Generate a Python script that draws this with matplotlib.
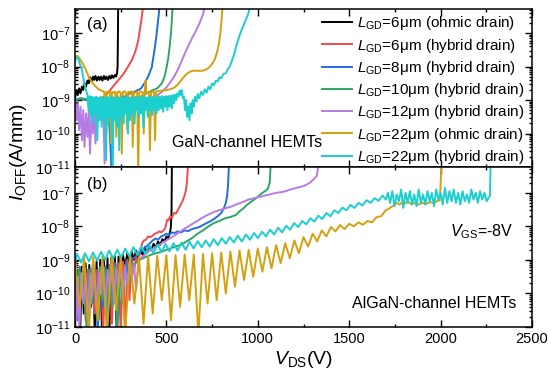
import numpy as np
import matplotlib
matplotlib.use("Agg")
import matplotlib.pyplot as plt
from matplotlib.ticker import MultipleLocator, LogLocator, NullFormatter

plt.rcParams["font.family"] = ["Liberation Sans", "DejaVu Sans"]
plt.rcParams["mathtext.fontset"] = "custom"
plt.rcParams["mathtext.rm"] = "Liberation Sans"
plt.rcParams["mathtext.it"] = "Liberation Sans:italic"

# colours of the seven devices (legend order)
colors = ["#000000", "#f44a4a", "#1f6fe0", "#2ca864", "#b57ce6", "#d4a010", "#1ccfcf"]
labels = [
    r"$L_{\mathrm{GD}}$=6μm (ohmic drain)",
    r"$L_{\mathrm{GD}}$=6μm (hybrid drain)",
    r"$L_{\mathrm{GD}}$=8μm (hybrid drain)",
    r"$L_{\mathrm{GD}}$=10μm (hybrid drain)",
    r"$L_{\mathrm{GD}}$=12μm (hybrid drain)",
    r"$L_{\mathrm{GD}}$=22μm (ohmic drain)",
    r"$L_{\mathrm{GD}}$=22μm (hybrid drain)",
]

# ---- (a) GaN-channel : (V_DS [V], log10 I_OFF [A/mm]) ----
a_black = [(0, -8.95), (8, -8.7), (15, -8.85), (22, -8.65), (30, -8.8), (38, -8.6), (45, -8.7),
           (52, -8.5), (60, -8.6), (68, -8.42), (75, -8.5), (82, -8.32), (90, -8.45), (98, -8.3),
           (105, -8.4), (112, -8.28), (120, -8.42), (128, -8.3), (135, -8.4), (142, -8.3),
           (150, -8.42), (158, -8.28), (165, -8.38), (172, -8.3), (180, -8.4), (188, -8.28),
           (195, -8.36), (202, -8.26), (210, -8.34), (218, -8.25), (225, -8.3), (230, -8.2),
           (233, -8.0), (235, -7.0), (236, -6.2)]
a_red = [(0, -9.0), (30, -8.95), (60, -9.0), (90, -8.95), (120, -9.0), (150, -8.92), (170, -8.85),
         (190, -8.72), (210, -8.58), (230, -8.45), (250, -8.32), (270, -8.18), (290, -8.0),
         (310, -7.82), (330, -7.55), (345, -7.25), (355, -6.9), (362, -6.65), (368, -6.4), (372, -6.2)]
a_blue = [(0, -9.0), (30, -8.95), (60, -9.0), (90, -8.95), (120, -9.0), (150, -8.95), (180, -9.0),
          (195, -10.5), (200, -11.2), (205, -10.4), (210, -9.0), (240, -8.95), (270, -8.9),
          (300, -8.8), (330, -8.74), (360, -8.66), (380, -8.5), (400, -8.3), (420, -8.02),
          (435, -7.5), (445, -7.1), (452, -6.75), (458, -6.45), (462, -6.2)]
a_green = [(0, -9.0), (40, -8.95), (80, -9.0), (120, -8.95), (160, -9.0), (200, -8.95), (240, -9.0),
           (280, -8.95), (320, -8.95), (360, -8.9), (390, -8.8), (420, -8.72), (450, -8.65),
           (475, -8.5), (490, -8.3), (500, -8.05), (510, -7.75), (518, -7.4), (525, -7.0),
           (530, -6.6), (534, -6.2)]
a_purple = [(0, -9.0), (8, -9.6), (15, -9.1), (22, -9.9), (30, -9.2), (38, -10.2), (45, -9.3),
            (52, -10.4), (60, -9.4), (68, -10.1), (75, -9.3), (82, -10.6), (90, -9.4), (98, -10.0),
            (105, -9.2), (112, -10.3), (120, -9.1), (130, -9.5), (140, -9.0), (155, -9.3),
            (162, -10.9), (170, -9.05), (200, -9.0), (250, -9.05), (300, -9.0), (350, -9.0),
            (400, -8.95), (440, -8.9), (470, -8.78), (500, -8.62), (520, -8.48), (540, -8.32),
            (560, -8.12), (580, -7.88), (600, -7.62), (620, -7.38), (640, -7.15), (660, -6.95),
            (680, -6.72), (700, -6.45), (710, -6.2)]
a_gold = [(0, -7.78), (10, -7.68), (18, -7.7), (30, -7.8), (46, -7.95), (60, -8.1), (73, -8.28),
          (90, -8.45), (110, -8.58), (130, -8.68), (150, -8.73), (160, -8.76), (166, -9.8),
          (172, -8.75), (180, -8.78), (190, -8.74), (196, -10.3), (202, -8.76), (210, -8.78),
          (220, -8.75), (226, -10.1), (232, -8.77), (240, -8.74), (250, -8.78), (256, -10.6),
          (262, -8.76), (270, -8.74), (280, -8.78), (286, -9.9), (292, -8.75), (300, -8.77),
          (310, -8.74), (316, -10.4), (322, -8.76), (330, -8.78), (340, -8.75), (346, -11.2),
          (352, -8.77), (360, -8.74), (370, -8.76), (376, -10.0), (382, -8.72), (386, -8.42),
          (390, -8.75), (396, -8.78), (404, -8.76), (410, -10.5), (416, -8.77), (424, -8.74),
          (432, -8.76), (438, -10.2), (444, -8.75), (452, -8.74), (460, -8.73), (470, -8.72),
          (480, -8.72), (500, -8.7), (520, -8.68), (540, -8.64), (560, -8.55), (575, -8.45),
          (590, -8.35), (605, -8.25), (620, -8.18), (640, -8.13), (660, -8.12), (680, -8.13),
          (700, -8.12), (720, -8.08), (735, -8.02), (750, -7.92), (765, -7.78), (778, -7.55),
          (788, -7.3), (796, -6.95), (802, -6.6), (807, -6.2)]
a_cyan = [(0, -7.85), (6, -7.75), (12, -7.72), (20, -7.8), (28, -7.95), (36, -8.05), (44, -8.3),
          (52, -8.52), (60, -8.7), (68, -8.85), (74, -9.3), (80, -8.88), (86, -9.5), (92, -8.9),
          (98, -9.7), (104, -8.92), (110, -9.4), (116, -8.9), (122, -10.2), (128, -8.93),
          (134, -9.6), (140, -8.9), (146, -9.8), (152, -8.92), (158, -9.5), (164, -8.94),
          (170, -10.8), (176, -8.9), (182, -9.7), (188, -8.93), (194, -9.5), (200, -8.9),
          (206, -11.2), (212, -8.92), (218, -9.6), (224, -8.95), (230, -9.8), (236, -8.9),
          (242, -10.5), (248, -8.93), (254, -9.5), (260, -8.92), (266, -9.7), (272, -8.94),
          (278, -9.4), (284, -8.9), (290, -10.0), (296, -8.93), (302, -9.6), (308, -8.92),
          (314, -9.4), (320, -8.94), (326, -9.7), (332, -8.9), (338, -9.3), (344, -8.92),
          (350, -9.5), (356, -8.93), (362, -9.4), (368, -8.9), (374, -9.8), (380, -8.92),
          (386, -9.3), (392, -8.93), (398, -9.5), (404, -8.9), (410, -9.3), (416, -8.92),
          (422, -9.45), (428, -8.9), (434, -9.3), (440, -8.92), (446, -9.4), (452, -8.88),
          (458, -9.3), (464, -8.9), (470, -9.25), (476, -8.88), (482, -9.35), (488, -8.9),
          (494, -9.2), (500, -8.88), (506, -9.3), (512, -8.88), (518, -9.2), (524, -8.86),
          (530, -9.25), (536, -8.85), (542, -9.1), (548, -8.84), (554, -9.0), (560, -8.8),
          (566, -8.9), (572, -8.72), (578, -8.85), (584, -8.7), (590, -8.95), (596, -8.9),
          (602, -9.3), (608, -9.0), (614, -9.5), (620, -9.2), (626, -9.6), (632, -9.1),
          (638, -9.4), (644, -9.0), (650, -9.2), (656, -8.9), (664, -9.05), (672, -8.82),
          (680, -8.95), (690, -8.75), (700, -8.85), (710, -8.68), (720, -8.78), (730, -8.6),
          (740, -8.68), (750, -8.5), (760, -8.56), (770, -8.42), (780, -8.45), (790, -8.32),
          (800, -8.35), (812, -8.22), (824, -8.2), (836, -8.08), (848, -7.98), (860, -7.8),
          (872, -7.6), (884, -7.35), (896, -7.15), (908, -6.95), (920, -6.8), (935, -6.6),
          (948, -6.42), (958, -6.2)]

# ---- (b) AlGaN-channel ----
b_black = [(0, -9.2), (10, -10.2), (18, -9.3), (28, -11.2), (38, -9.2), (48, -10.6), (58, -9.1),
           (68, -11.2), (78, -9.15), (88, -10.4), (98, -9.1), (108, -11.2), (118, -9.05),
           (128, -10.8), (138, -9.0), (148, -11.2), (158, -9.0), (168, -10.2), (178, -8.95),
           (188, -11.2), (198, -8.95), (208, -10.0), (218, -8.9), (228, -11.2), (238, -8.9),
           (250, -9.4), (262, -8.85), (274, -9.2), (286, -8.8), (298, -9.1), (310, -8.75),
           (322, -9.0), (334, -8.72), (346, -8.95), (358, -8.68), (370, -8.85), (382, -8.62),
           (394, -8.78), (406, -8.58), (418, -8.7), (430, -8.52), (442, -8.62), (454, -8.45),
           (466, -8.55), (478, -8.38), (490, -8.45), (500, -8.3), (510, -8.35), (518, -8.2),
           (524, -8.05), (528, -7.6), (530, -6.2)]
b_red = [(0, -9.3), (12, -10.5), (22, -9.4), (34, -9.9), (46, -9.3), (58, -10.8), (70, -9.3),
         (82, -10.1), (94, -9.25), (106, -10.6), (118, -9.3), (130, -10.2), (142, -9.2),
         (154, -11.2), (166, -9.2), (178, -10.3), (190, -9.15), (202, -10.9), (214, -9.1),
         (226, -10.4), (238, -9.1), (250, -11.2), (262, -9.05), (274, -11.2), (286, -9.0),
         (298, -10.2), (310, -8.95), (322, -9.4), (334, -8.9), (346, -9.1), (358, -8.7),
         (368, -8.5), (376, -8.42), (388, -8.4), (400, -8.3), (412, -8.32), (424, -8.28),
         (436, -8.22), (448, -8.2), (460, -8.15), (472, -8.18), (484, -8.12), (494, -8.05),
         (504, -7.8), (512, -7.82), (520, -7.7), (530, -7.75), (540, -7.6), (552, -7.62),
         (564, -7.5), (576, -7.38), (588, -7.25), (598, -7.1), (606, -6.95), (612, -6.7),
         (618, -6.2)]
b_blue = [(0, -9.1), (14, -10.8), (26, -9.2), (40, -10.2), (54, -9.3), (68, -10.9), (82, -9.25),
          (96, -10.3), (110, -9.3), (124, -11.2), (138, -9.2), (152, -10.4), (166, -9.2),
          (180, -10.9), (194, -9.15), (208, -10.2), (222, -9.1), (236, -10.7), (250, -9.1),
          (264, -10.0), (278, -9.05), (292, -9.6), (310, -9.0), (330, -8.9), (350, -8.8),
          (370, -8.7), (390, -8.6), (410, -8.5), (425, -8.42), (440, -8.36), (455, -8.4),
          (470, -8.3), (485, -8.27), (500, -8.22), (515, -8.26), (530, -8.18), (545, -8.2),
          (560, -8.15), (580, -8.18), (600, -8.12), (620, -8.14), (640, -8.08), (660, -8.05),
          (680, -8.02), (700, -7.96), (720, -7.9), (740, -7.85), (760, -7.78), (780, -7.7),
          (800, -7.6), (815, -7.45), (825, -7.3), (832, -7.1), (837, -6.8), (842, -6.2)]
b_green = [(0, -9.2), (10, -10.6), (22, -9.3), (36, -10.1), (50, -9.35), (64, -11.2), (78, -9.3),
           (92, -10.3), (106, -9.3), (120, -10.8), (134, -9.25), (148, -10.2), (162, -9.25),
           (176, -10.9), (190, -9.2), (204, -10.4), (218, -9.2), (232, -11.2), (246, -9.15),
           (260, -10.3), (274, -9.15), (288, -9.8), (310, -9.2), (340, -9.05), (370, -8.95),
           (400, -8.88), (430, -8.82), (460, -8.78), (490, -8.72), (520, -8.66), (550, -8.6),
           (580, -8.55), (610, -8.45), (640, -8.35), (670, -8.22), (700, -8.12), (730, -8.0),
           (760, -7.9), (790, -7.84), (820, -7.76), (850, -7.72), (880, -7.66), (900, -7.55),
           (920, -7.47), (940, -7.36), (960, -7.28), (980, -7.2), (1000, -7.12), (1020, -7.02),
           (1040, -6.95), (1055, -6.88), (1065, -6.7), (1070, -6.2)]
b_purple = [(0, -9.3), (8, -10.8), (16, -9.5), (24, -11.2), (34, -9.4), (46, -10.3), (58, -9.4),
            (70, -10.7), (82, -9.4), (94, -10.1), (106, -9.35), (118, -10.6), (130, -9.35),
            (142, -10.0), (154, -9.3), (166, -10.5), (178, -9.3), (190, -9.9), (202, -9.25),
            (214, -10.3), (226, -9.25), (238, -9.8), (250, -9.2), (262, -10.1), (274, -9.2),
            (286, -9.7), (298, -9.15), (310, -9.6), (322, -9.1), (334, -9.9), (350, -9.0),
            (380, -8.85), (410, -8.72), (440, -8.62), (470, -8.52), (500, -8.42), (530, -8.32),
            (560, -8.22), (590, -8.1), (620, -8.0), (650, -7.9), (680, -7.8), (710, -7.7),
            (740, -7.62), (770, -7.55), (800, -7.5), (830, -7.45), (860, -7.4), (890, -7.33),
            (920, -7.27), (950, -7.2), (980, -7.16), (1010, -7.12), (1040, -7.08), (1070, -7.04),
            (1100, -7.0), (1140, -6.97), (1180, -6.9), (1220, -6.84), (1250, -6.8),
            (1285, -6.7), (1305, -6.6), (1322, -6.5), (1332, -6.2)]
b_gold = [(0, -8.92), (25, -10.4), (50, -8.9), (75, -11.2), (100, -8.92), (125, -10.8), (150, -8.9),
          (175, -11.2), (200, -8.9), (225, -10.5), (250, -8.92), (275, -11.2), (300, -8.88),
          (325, -10.3), (350, -8.9), (375, -10.9), (400, -8.88), (425, -10.6), (450, -8.88),
          (475, -10.2), (500, -8.86), (525, -10.8), (550, -8.86), (575, -10.4), (600, -8.84),
          (625, -10.2), (650, -8.84), (675, -11.2), (700, -8.82), (725, -10.3), (750, -8.8),
          (775, -10.2), (800, -8.78), (825, -10.0), (850, -8.75), (875, -9.8), (900, -8.72),
          (925, -9.6), (950, -8.7), (975, -9.5), (1000, -8.66), (1025, -9.35), (1050, -8.62),
          (1075, -9.25), (1100, -8.56), (1125, -9.1), (1150, -8.5), (1175, -8.95), (1200, -8.42),
          (1225, -8.8), (1250, -8.32), (1275, -8.6), (1300, -8.22), (1325, -8.45), (1350, -8.12),
          (1375, -8.3), (1400, -8.02), (1425, -8.15), (1450, -7.96), (1475, -8.08), (1500, -7.92),
          (1525, -8.0), (1550, -7.88), (1575, -7.95), (1600, -7.84), (1625, -7.88), (1650, -7.72),
          (1675, -7.7), (1700, -7.52), (1715, -7.48), (1730, -7.42), (1745, -7.38), (1760, -7.3),
          (1775, -7.35), (1790, -7.28), (1805, -7.32), (1820, -7.26), (1840, -7.34), (1860, -7.3),
          (1880, -7.35), (1900, -7.3), (1920, -7.33), (1940, -7.28), (1960, -7.3), (1980, -7.25),
          (1995, -7.22), (2000, -6.8), (2003, -6.2)]
b_cyan = [(0, -9.05), (11, -8.82), (33, -9.08), (55, -8.8), (77, -9.05), (99, -8.78), (121, -9.02),
          (143, -8.76), (165, -9.0), (187, -8.72), (209, -8.96), (231, -8.7), (253, -8.92),
          (275, -8.66), (297, -8.9), (319, -8.62), (341, -8.85), (363, -8.6), (385, -8.82),
          (407, -8.56), (429, -8.8), (451, -8.54), (473, -8.76), (495, -8.52), (517, -8.74),
          (539, -8.5), (561, -8.72), (583, -8.48), (605, -8.7), (627, -8.46), (649, -8.66),
          (671, -8.44), (693, -8.62), (715, -8.42), (737, -8.6), (759, -8.38), (781, -8.56),
          (803, -8.35), (825, -8.52), (847, -8.32), (869, -8.48), (891, -8.28), (913, -8.45),
          (935, -8.24), (957, -8.4), (979, -8.2), (1001, -8.35), (1023, -8.16), (1045, -8.3),
          (1067, -8.1), (1089, -8.24), (1111, -8.04), (1133, -8.18), (1155, -7.98), (1177, -8.1),
          (1199, -7.9), (1221, -8.02), (1243, -7.84), (1265, -7.94), (1287, -7.76), (1309, -7.86),
          (1331, -7.68), (1353, -7.78), (1375, -7.6), (1397, -7.7), (1419, -7.52), (1441, -7.6),
          (1463, -7.44), (1485, -7.52), (1507, -7.36), (1529, -7.45), (1551, -7.3), (1573, -7.38),
          (1595, -7.22), (1617, -7.3), (1639, -7.16), (1661, -7.24), (1683, -7.08), (1700, -7.2),
          (1712, -7.0), (1724, -7.3), (1736, -6.95), (1748, -7.4), (1760, -7.05), (1772, -7.25),
          (1784, -6.9), (1796, -7.45), (1808, -7.0), (1820, -7.3), (1832, -6.95), (1844, -7.35),
          (1856, -7.05), (1868, -7.4), (1880, -6.9), (1892, -7.3), (1904, -7.05), (1916, -7.35),
          (1928, -6.95), (1940, -7.25), (1952, -7.0), (1964, -7.4), (1976, -6.9), (1988, -7.2),
          (2000, -7.0), (2012, -7.35), (2024, -6.85), (2036, -7.3), (2048, -6.95), (2060, -7.25),
          (2072, -6.9), (2084, -7.3), (2096, -7.0), (2108, -7.35), (2120, -6.95), (2132, -7.25),
          (2144, -7.05), (2156, -7.3), (2168, -6.9), (2180, -7.2), (2192, -7.0), (2204, -7.3),
          (2216, -6.95), (2228, -7.2), (2240, -7.0), (2252, -7.25), (2262, -7.15), (2270, -7.1),
          (2273, -6.2)]

panel_a = [a_black, a_red, a_blue, a_green, a_purple, a_gold, a_cyan]
panel_b = [b_black, b_red, b_blue, b_green, b_purple, b_gold, b_cyan]


def style_axis(ax, ytop):
    ax.set_yscale("log")
    ax.set_xlim(0, 2500)
    ax.set_ylim(1e-11, 10 ** ytop)
    ax.xaxis.set_major_locator(MultipleLocator(500))
    ax.xaxis.set_minor_locator(MultipleLocator(250))
    ax.yaxis.set_major_locator(LogLocator(base=10, numticks=10))
    ax.yaxis.set_minor_locator(LogLocator(base=10, subs=np.arange(2, 10), numticks=20))
    ax.yaxis.set_minor_formatter(NullFormatter())
    ax.tick_params(which="both", direction="in", top=True, right=True, labelsize=10.5, width=1.0)
    ax.tick_params(which="major", length=5)
    ax.tick_params(which="minor", length=2.5)
    for s in ax.spines.values():
        s.set_linewidth(1.1)


fig = plt.figure(figsize=(5.51, 3.8), dpi=100)
ax_a = fig.add_axes([75 / 551, 1 - 167 / 380, 457 / 551, 158 / 380])
ax_b = fig.add_axes([75 / 551, 1 - 327 / 380, 457 / 551, 160 / 380])

for ax, data in ((ax_a, panel_a), (ax_b, panel_b)):
    for pts, c, lab in zip(data, colors, labels):
        v, lg = zip(*pts)
        ax.plot(v, 10 ** np.array(lg), color=c, lw=1.4, label=lab)

style_axis(ax_a, -6.28)
style_axis(ax_b, -6.23)
ax_a.tick_params(labelbottom=False)

ax_a.legend(loc="upper right", bbox_to_anchor=(0.995, 1.0), frameon=False, fontsize=11,
            handlelength=2.0, handletextpad=0.3, labelspacing=0.28, borderaxespad=0.15,
            borderpad=0.2)

ax_a.text(0.026, 0.9, "(a)", transform=ax_a.transAxes, fontsize=12, va="center")
ax_b.text(0.026, 0.888, "(b)", transform=ax_b.transAxes, fontsize=12, va="center")
ax_a.text(0.212, 0.152, "GaN-channel HEMTs", transform=ax_a.transAxes, fontsize=11.5, va="center")
ax_b.text(0.606, 0.15, "AlGaN-channel HEMTs", transform=ax_b.transAxes, fontsize=11.5, va="center")
ax_b.text(0.82, 0.594, r"$V_{\mathrm{GS}}$=-8V", transform=ax_b.transAxes, fontsize=11.5, va="center")

ax_b.set_xlabel(r"$V_{\mathrm{DS}}$(V)", fontsize=14, labelpad=2)
fig.text(0.033, 0.6, r"$I_{\mathrm{OFF}}$(A/mm)", rotation=90, fontsize=14, ha="center", va="center")

fig.savefig("out.png", dpi=100)
